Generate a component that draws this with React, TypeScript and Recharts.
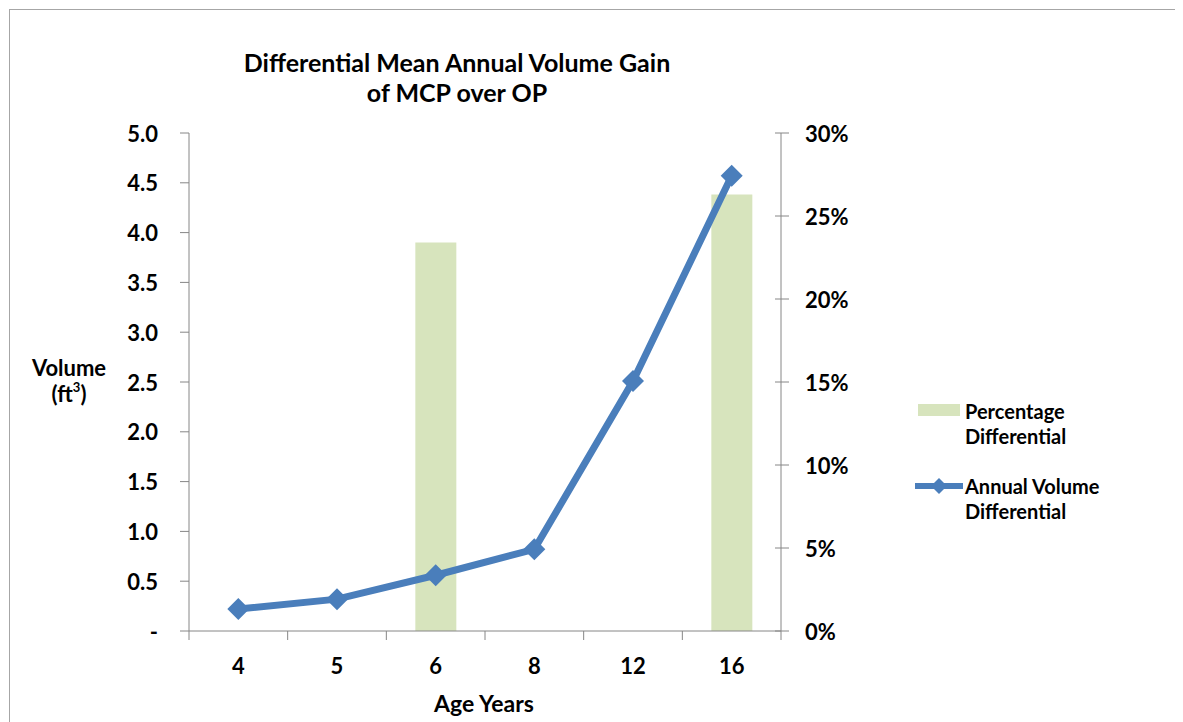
import React from 'react';
import { ComposedChart, Bar, Line, XAxis, YAxis, Legend, Label } from 'recharts';

const AGES = ['4', '5', '6', '8', '12', '16'];
const VOLUME_DIFF = [0.22, 0.32, 0.56, 0.82, 2.51, 4.57];
const PCT_DIFF = [null, null, 0.234, null, null, 0.263];
const VOLUME_TICKS = [0, 0.5, 1, 1.5, 2, 2.5, 3, 3.5, 4, 4.5, 5];
const PCT_TICKS = [0, 0.05, 0.1, 0.15, 0.2, 0.25, 0.3];

const data = AGES.map((age, i) => ({
  age,
  volume: VOLUME_DIFF[i],
  pct: PCT_DIFF[i],
}));

const AXIS = '#868686';
const BLUE = '#4a7ebb';
const GREEN = '#d7e4bd';
const FONT = 'Lato, "Open Sans", sans-serif';

const W = 1170;
const H = 712;
const M = { top: 123, right: 339, bottom: 11, left: 119 };
const BAND = (W - M.left - M.right - 120) / AGES.length;

const LeftTick = ({ x, y, payload }: any) => (
  <g>
    <line x1={x - 9} x2={x} y1={y} y2={y} stroke={AXIS} />
    <text x={x - 31} y={y} textAnchor="end" dominantBaseline="central" fontSize={22} fontWeight={700} fill="#000">
      {payload.value === 0 ? '-' : payload.value.toFixed(1)}
    </text>
  </g>
);

const RightTick = ({ x, y, payload }: any) => (
  <g>
    <line x1={x - 6} x2={x + 8} y1={y} y2={y} stroke={AXIS} />
    <text x={x + 24} y={y} textAnchor="start" dominantBaseline="central" fontSize={22} fontWeight={700} fill="#000">
      {`${Math.round(payload.value * 100)}%`}
    </text>
  </g>
);

const BottomTick = ({ x, y, payload, index }: any) => (
  <g>
    <line x1={x - BAND / 2} x2={x - BAND / 2} y1={y} y2={y + 9} stroke={AXIS} />
    {index === AGES.length - 1 && (
      <line x1={x + BAND / 2} x2={x + BAND / 2} y1={y} y2={y + 9} stroke={AXIS} />
    )}
    <text x={x} y={y + 34} textAnchor="middle" dominantBaseline="central" fontSize={22} fontWeight={700} fill="#000">
      {payload.value}
    </text>
  </g>
);

const Diamond = ({ cx, cy }: any) => {
  if (cx == null || cy == null) return null;
  const r = 11;
  return <polygon points={`${cx},${cy - r} ${cx + r},${cy} ${cx},${cy + r} ${cx - r},${cy}`} fill={BLUE} />;
};

const LegendBox = () => (
  <svg width={240} height={140} style={{ fontFamily: FONT }}>
    <rect x={13} y={10} width={42} height={12} fill={GREEN} />
    <text x={60} y={17} fontSize={20} fontWeight={700} dominantBaseline="central">Percentage</text>
    <text x={60} y={42} fontSize={20} fontWeight={700} dominantBaseline="central">Differential</text>
    <line x1={10} x2={58} y1={92} y2={92} stroke={BLUE} strokeWidth={6} />
    <polygon points="34,84 42,92 34,100 26,92" fill={BLUE} />
    <text x={60} y={92} fontSize={20} fontWeight={700} dominantBaseline="central">Annual Volume</text>
    <text x={60} y={117} fontSize={20} fontWeight={700} dominantBaseline="central">Differential</text>
  </svg>
);

export default function App() {
  return (
    <div
      style={{
        position: 'relative',
        width: 1171,
        height: 714,
        margin: '1px 0 0 1px',
        borderTop: '1px solid #a6a6a6',
        borderLeft: '1px solid #a6a6a6',
        borderRight: '1px solid #d9d9d9',
        fontFamily: FONT,
        background: '#fff',
      }}
    >
      <div
        style={{
          position: 'absolute',
          left: 147,
          width: 600,
          top: 37,
          textAlign: 'center',
          fontSize: 25,
          fontWeight: 700,
          lineHeight: '30px',
          color: '#000',
        }}
      >
        Differential Mean Annual Volume Gain
        <br />
        of MCP over OP
      </div>
      <ComposedChart width={W} height={H} data={data} margin={M} style={{ position: 'absolute', left: 0, top: 0 }}>
        <XAxis
          dataKey="age"
          xAxisId={0}
          height={80}
          stroke={AXIS}
          tickLine={false}
          tickSize={0}
          tickMargin={0}
          tick={<BottomTick />}
          interval={0}
        >
          <Label
            content={({ viewBox }: any) => (
              <text
                x={viewBox.x + viewBox.width / 2 - 1}
                y={viewBox.y + 72}
                textAnchor="middle"
                dominantBaseline="central"
                fontSize={23}
                fontWeight={700}
              >
                Age Years
              </text>
            )}
          />
        </XAxis>
        <YAxis
          yAxisId="left"
          orientation="left"
          width={60}
          domain={[0, 5]}
          ticks={VOLUME_TICKS}
          stroke={AXIS}
          tickLine={false}
          tickSize={0}
          tickMargin={0}
          tick={<LeftTick />}
          interval={0}
        >
          <Label
            content={({ viewBox }: any) => {
              const cx = viewBox.x - 60;
              const cy = viewBox.y + viewBox.height / 2;
              return (
                <g fontSize={22} fontWeight={700}>
                  <text x={cx} y={cy - 15} textAnchor="middle" dominantBaseline="central">
                    Volume
                  </text>
                  <text x={cx} y={cy + 11} textAnchor="middle" dominantBaseline="central">
                    (ft<tspan dy={-6} fontSize={13}>3</tspan>
                    <tspan dy={6}>)</tspan>
                  </text>
                </g>
              );
            }}
          />
        </YAxis>
        <YAxis
          yAxisId="right"
          orientation="right"
          width={60}
          domain={[0, 0.3]}
          ticks={PCT_TICKS}
          stroke={AXIS}
          tickLine={false}
          tickSize={0}
          tickMargin={0}
          tick={<RightTick />}
          interval={0}
        />
        <Bar yAxisId="right" dataKey="pct" fill={GREEN} barSize={41} isAnimationActive={false} />
        <Line
          yAxisId="left"
          dataKey="volume"
          stroke={BLUE}
          strokeWidth={7}
          dot={<Diamond />}
          activeDot={false}
          isAnimationActive={false}
        />
        <Legend
          layout="vertical"
          align="center"
          verticalAlign="middle"
          content={<LegendBox />}
          wrapperStyle={{ left: 895, top: 384, width: 240, height: 140 }}
        />
      </ComposedChart>
    </div>
  );
}
